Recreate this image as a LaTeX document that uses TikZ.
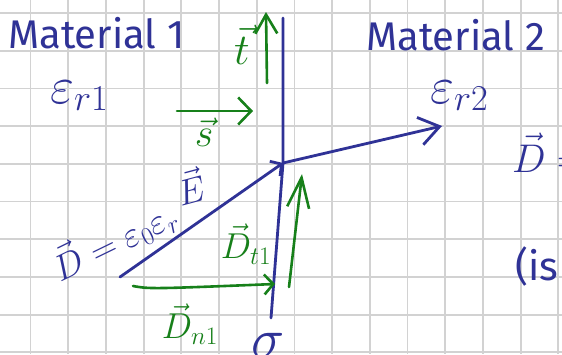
\RequirePackage{fix-cm}
\documentclass[tikz,border=0pt]{standalone}
\usepackage{fontspec}
\setmainfont{Fira Sans}
\usetikzlibrary{positioning,arrows.meta}
\definecolor{penblue}{HTML}{2F3296}
\definecolor{pengreen}{HTML}{17801A}
\definecolor{gridgray}{HTML}{D2D2D2}

\begin{document}
\begin{tikzpicture}[x=1pt, y=-1pt,
  bluepen/.style={draw=penblue, line width=2.8pt, line cap=round, line join=round},
  greenpen/.style={draw=pengreen, line width=2.6pt, line cap=round, line join=round},
  bluetext/.style={text=penblue, inner sep=0pt},
  greentext/.style={text=pengreen, inner sep=0pt}]
\useasboundingbox (0,0) rectangle (562,354);
\clip (0,0) rectangle (562,354);
\fill[white] (0,0) rectangle (562,354);
% squared paper
\foreach \i in {0,...,14}
  \draw[gridgray, line width=1.8pt] (30.5+37.7*\i,0) -- (30.5+37.7*\i,354);
\foreach \j in {0,...,9}
  \draw[gridgray, line width=1.8pt] (0,13+37.7*\j) -- (562,13+37.7*\j);

% interface and rays
\coordinate (top) at (283,18);
\coordinate (bot) at (271,318);
\coordinate (hit) at (283,163);
\coordinate (src) at (120,277);
\coordinate (dst) at (442,126);
\draw[bluepen] (top) -- (hit) -- (bot);
\draw[bluepen, -{Straight Barb[length=8pt,width=18pt]}] (src) -- (hit);
\draw[bluepen, -{Straight Barb[length=20pt,width=28pt]}] (hit) -- (dst);

% green vectors
\coordinate (tfoot) at (267,83);
\coordinate (ttip) at (266,12);
\coordinate (sfoot) at (177,111);
\coordinate (stip) at (253,111);
\coordinate (nfoot) at (133,286);
\coordinate (ntip) at (275,284);
\coordinate (dtfoot) at (289,287);
\coordinate (dttip) at (302,174);
\draw[greenpen, -{Straight Barb[length=19pt,width=22pt]}] (tfoot) -- (ttip);
\draw[greenpen, -{Straight Barb[length=13pt,width=27pt]}] (sfoot) -- (stip);
\draw[greenpen, -{Straight Barb[length=9pt,width=20pt]}] (nfoot) .. controls (150,289) .. (ntip);
\draw[greenpen, -{Straight Barb[length=30pt,width=22pt]}] (dtfoot) -- (dttip);

% labels
\node[bluetext, font=\fontsize{40}{44}\selectfont, anchor=base west] (mat1) at (8,48) {Material 1};
\node[bluetext, font=\fontsize{52}{56}\selectfont, anchor=base west] (eps1) at (50,103) {$\varepsilon_{r1}$};
\node[bluetext, font=\fontsize{40}{44}\selectfont, anchor=base west] (mat2) at (366,50) {Material 2};
\node[bluetext, font=\fontsize{52}{56}\selectfont, anchor=base west] (eps2) at (430,103) {$\varepsilon_{r2}$};
\node[bluetext, font=\fontsize{40}{44}\selectfont, anchor=base west] (dright) at (512,172) {$\vec D=$};
\node[bluetext, font=\fontsize{40}{44}\selectfont, anchor=base west] (isnote) at (515,280) {(is};
\node[bluetext, font=\fontsize{36}{40}\selectfont, rotate=26] (dlaw) at (114,240) {$\vec D=\varepsilon_0\varepsilon_r$};
\node[bluetext, font=\fontsize{36}{40}\selectfont, rotate=15] (evec) at (190,186) {$\vec E$};
\node[bluetext, font=\fontsize{56}{60}\selectfont, anchor=base] (sigma) at (268,357) {$\sigma$};
\node[greentext, font=\fontsize{44}{48}\selectfont] (tvec) at (242,45) {$\vec t$};
\node[greentext, font=\fontsize{40}{44}\selectfont] (svec) at (204,132) {$\vec s$};
\node[greentext, font=\fontsize{36}{40}\selectfont] (dt1) at (246,244) {$\vec D_{t1}$};
\node[greentext, font=\fontsize{36}{40}\selectfont] (dn1) at (190,324) {$\vec D_{n1}$};
\end{tikzpicture}
\end{document}
